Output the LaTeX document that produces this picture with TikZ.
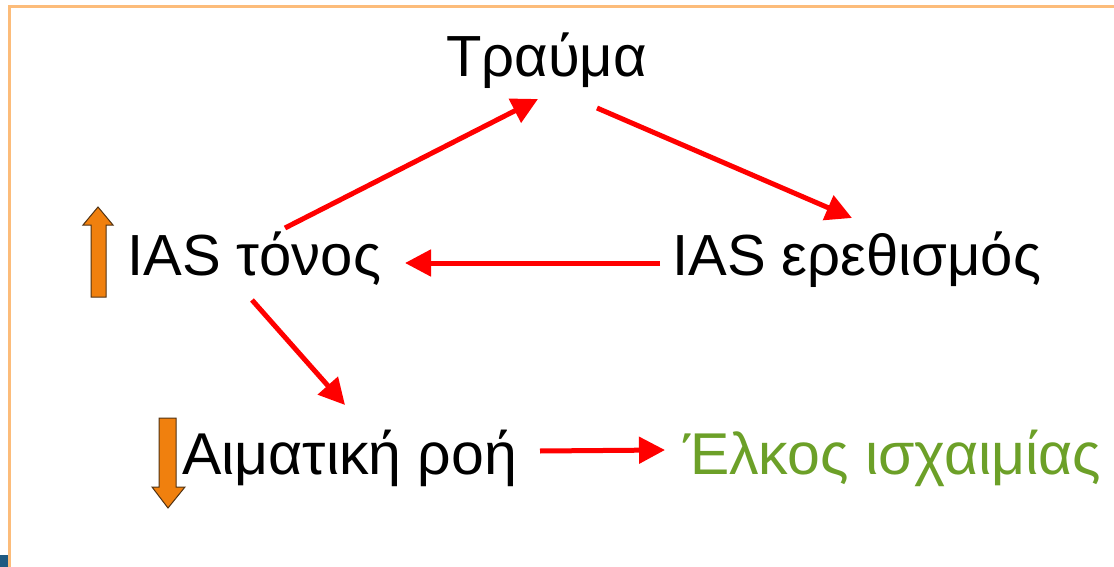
\documentclass[tikz,border=0pt]{standalone}
\usepackage{fontspec}
\setmainfont{Liberation Sans}
\usetikzlibrary{arrows,arrows.meta}

\definecolor{frameorange}{RGB}{252,188,122}
\definecolor{blockorange}{RGB}{240,128,14}
\definecolor{blockedge}{RGB}{80,50,20}
\definecolor{ulcergreen}{RGB}{108,160,40}
\definecolor{cornerblue}{RGB}{30,90,130}

\begin{document}
\begin{tikzpicture}[x=1pt,y=-1pt,
		every node/.style={inner sep=0pt,anchor=base west,font=\fontsize{58}{62}\selectfont},
		lower/.style={font=\fontsize{59}{63}\selectfont},
		link/.style={red,line width=5pt,-{Triangle[length=26pt,width=26pt]}},
		block/.style={fill=blockorange,draw=blockedge,line width=1pt,line join=miter}]
			\useasboundingbox (0,0) rectangle (1114,567);
			% frame
			\fill[frameorange] (8,5) rectangle (1114,8);
			\fill[frameorange] (8,5) rectangle (11,567);
			\fill[cornerblue] (0,555) rectangle (8,567);
			\node[]  at (446,77)  (trauma)  {Τραύμα};
			\node[]  at (127,275)  (tonos)   {IAS τόνος};
			\node[]  at (672,275)  (ereth)   {IAS ερεθισμός};
			\node[lower]  at (182,474)  (roi)     {Αιματική ροή};
			\node[lower,text=ulcergreen]  at (683,474)  (elkos)  {Έλκος ισχαιμίας};
			\draw[link] ([shift={(158,-47)}]tonos.base west) -- ([shift={(92,22)}]trauma.base west);
			\draw[link] ([shift={(151,31)}]trauma.base west) -- ([shift={(180,-57)}]ereth.base west);
			\draw[link] ([shift={(-12,-12)}]ereth.base west) -- ([shift={(278,-12)}]tonos.base west);
			\draw[link] ([shift={(125,25)}]tonos.base west) -- ([shift={(163,-69)}]roi.base west);
			\draw[link] ([shift={(358,-23)}]roi.base west) -- ([shift={(-18,-24)}]elkos.base west);
			% up and down
			\draw[block] (91,297) -- (91,225) -- (83,225) -- (98,207) -- (113,225) -- (106,225) -- (106,297) -- cycle;
			\draw[block] (159,418) -- (176,418) -- (176,487) -- (185,487) -- (168,508) -- (152,487) -- (159,487) -- cycle;
		\end{tikzpicture}
\end{document}
